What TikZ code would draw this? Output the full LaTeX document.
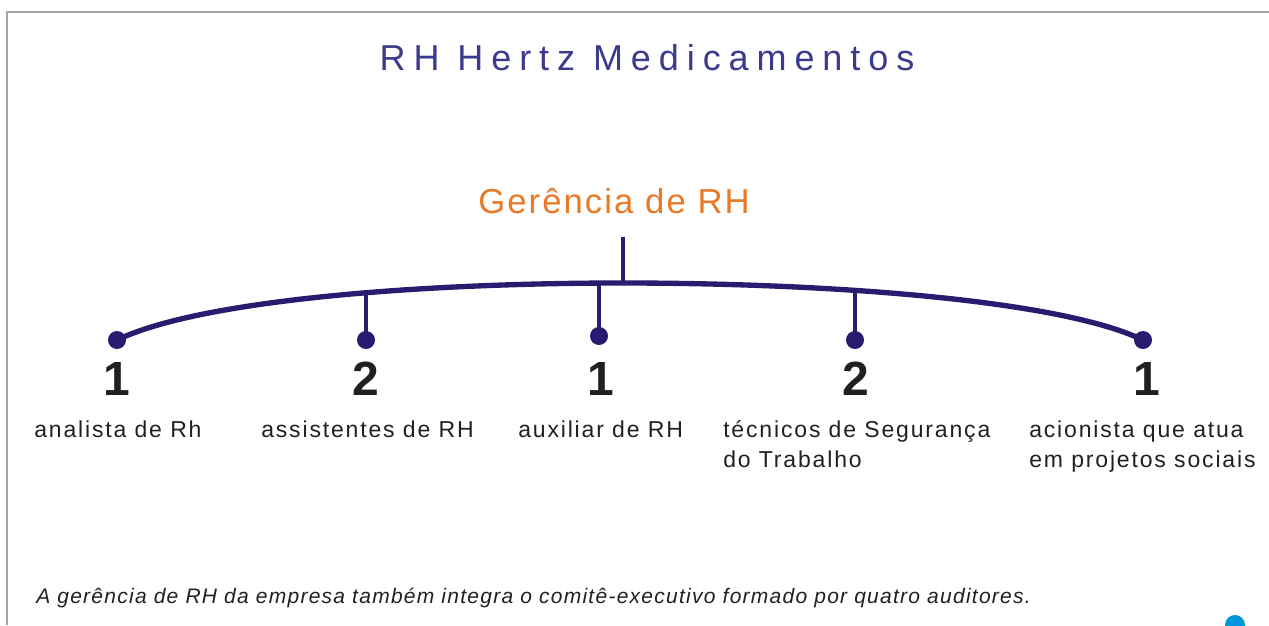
\documentclass[tikz,border=0pt]{standalone}
\usepackage{fontspec}
\setmainfont{Liberation Sans}
\usepackage{xcolor}
\usepackage{tikz}

\definecolor{rhnavy}{RGB}{42,26,112}
\definecolor{rhtitle}{RGB}{60,58,140}
\definecolor{rhorange}{RGB}{234,121,38}
\definecolor{rhtext}{RGB}{35,31,32}
\definecolor{rhframe}{RGB}{165,165,165}
\definecolor{rhblue}{RGB}{0,150,218}

\newfontfamily\titlefont[LetterSpace=22]{Liberation Sans}
\newfontfamily\headfont[LetterSpace=6]{Liberation Sans}
\newfontfamily\labelfont[LetterSpace=8]{Liberation Sans}
\newfontfamily\notefont[LetterSpace=6]{Liberation Sans}

\tikzset{
  member/.style={circle,fill=rhnavy,inner sep=0pt,minimum size=13.5pt},
  headcount/.style={anchor=base,inner sep=0.75pt,text=rhtext,font=\fontsize{36}{40}\selectfont\bfseries},
  rolelabel/.style={anchor=base west,inner sep=0.75pt,text=rhtext,align=left,font=\labelfont\fontsize{17.25}{22.5}\selectfont},
  link/.style={draw=rhnavy,line width=3pt},
}

\begin{document}
\begin{tikzpicture}[x=0.75pt,y=0.75pt,yscale=-1,xscale=1]

\useasboundingbox (0,0) rectangle (1269,625);

\draw [rhframe, line width=1.1pt] (7,625) -- (7,12) -- (1269,12) ;
\fill [rhblue] (1235,625) circle (7.5pt) ;

\node (title) at (647,70.7) [anchor=base,inner sep=0.75pt,text=rhtitle,font=\titlefont\fontsize{27}{32}\selectfont] {RH Hertz Medicamentos};

\node (head) at (614,213) [anchor=base,inner sep=0.75pt,text=rhorange,font=\headfont\fontsize{26}{30}\selectfont] {Gerência de RH};

\coordinate (top) at (623,237) ;
\coordinate (hub) at (623,283) ;
\coordinate (j2) at (366,292) ;
\coordinate (j3) at (599,283) ;
\coordinate (j4) at (855,290) ;

\node [member] (m1) at (117,340) {};
\node [member] (m2) at (366,340) {};
\node [member] (m3) at (599,336) {};
\node [member] (m4) at (855,340) {};
\node [member] (m5) at (1143,340) {};

\draw [link, line width=4pt] (m1.center) .. controls (200,300) and (420,283) .. (hub) .. controls (830,283) and (1060,300) .. (m5.center) ;
\draw [link] (hub) -- (top) ;
\draw [link] (m2.center) -- (j2) ;
\draw [link] (m3.center) -- (j3) ;
\draw [link] (m4.center) -- (j4) ;

\node [headcount] (n1) at (117,395) {1};
\node [headcount] (n2) at (366,395) {2};
\node [headcount] (n3) at (601,395) {1};
\node [headcount] (n4) at (856,395) {2};
\node [headcount] (n5) at (1147,395) {1};

\node [rolelabel] (r1) at (33,437) {analista de Rh};
\node [rolelabel] (r2) at (260,437) {assistentes de RH};
\node [rolelabel] (r3) at (517,437) {auxiliar de RH};
\node [rolelabel] (r4) at (722,467) {técnicos de Segurança\\do Trabalho};
\node [rolelabel] (r5) at (1028,467) {acionista que atua\\em projetos sociais};

\node (note) at (35,603) [anchor=base west,inner sep=0.75pt,text=rhtext,font=\notefont\itshape\fontsize{15.75}{18}\selectfont] {A gerência de RH da empresa também integra o comitê-executivo formado por quatro auditores.};

\end{tikzpicture}
\end{document}
